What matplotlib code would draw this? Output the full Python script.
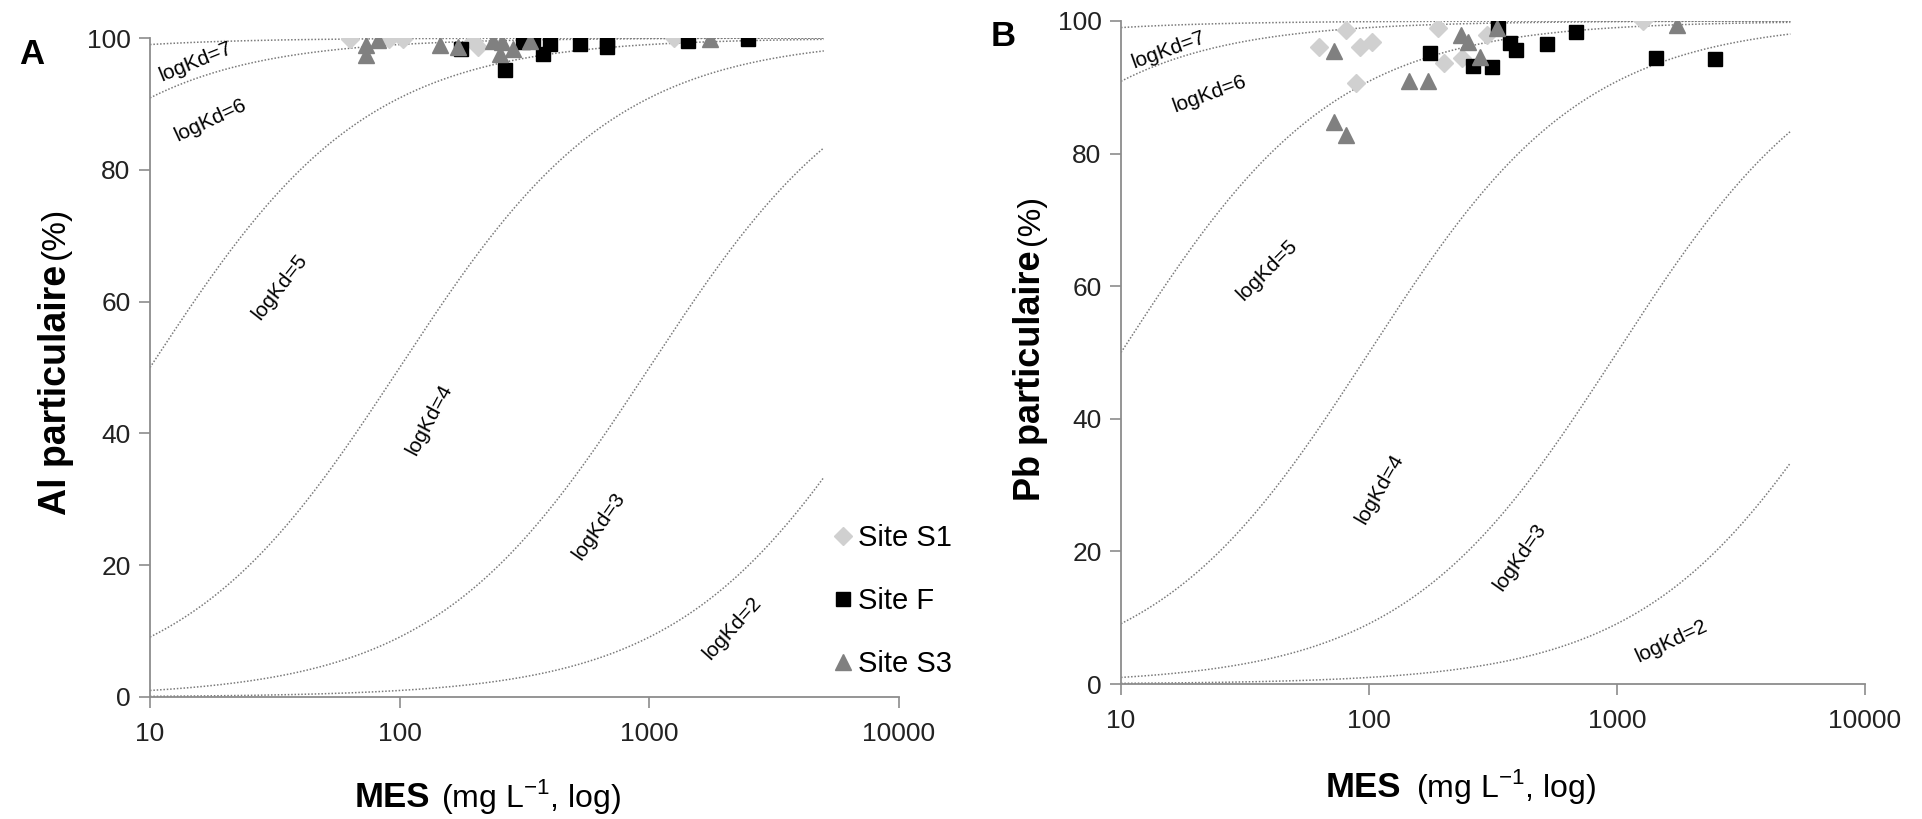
import numpy as np
import matplotlib
matplotlib.use("Agg")
import matplotlib.pyplot as plt

plt.rcParams['font.family'] = ['Liberation Sans', 'DejaVu Sans']
plt.rcParams['mathtext.fontset'] = 'custom'
plt.rcParams['mathtext.rm'] = 'Liberation Sans'
plt.rcParams['mathtext.bf'] = 'Liberation Sans:bold'

# theoretical partition curves
log_kd = [2, 3, 4, 5, 6, 7]
mes_curve = np.logspace(1, np.log10(5000), 300)

# panel A - Al
al_s1_x = [63, 91, 103, 197, 205, 1259]
al_s1_y = [99.9, 99.9, 99.9, 99.6, 98.6, 100]
al_f_x = [176, 264, 313, 342, 376, 400, 527, 676, 676, 1432, 2489]
al_f_y = [98.3, 95.2, 99.4, 99.8, 97.6, 99.1, 99.1, 99.6, 98.6, 99.5, 99.8]
al_s3_x = [73, 73, 82, 145, 172, 237, 256, 252, 284, 333, 1750]
al_s3_y = [98.9, 97.4, 99.65, 98.9, 98.7, 99.6, 99.4, 97.6, 98.4, 99.6, 99.9]

# panel B - Pb
pb_s1_x = [63, 81, 92, 103, 89, 190, 200, 238, 298, 1268]
pb_s1_y = [96.1, 98.6, 96.1, 96.9, 90.7, 98.9, 93.6, 94.4, 97.9, 100]
pb_f_x = [176, 262, 313, 332, 370, 392, 520, 681, 1430, 2480]
pb_f_y = [95.1, 93.2, 93.0, 98.9, 96.7, 95.6, 96.6, 98.4, 94.4, 94.2]
pb_s3_x = [72, 72, 81, 145, 173, 236, 250, 281, 329, 1738]
pb_s3_y = [95.4, 84.8, 82.8, 90.9, 90.9, 97.9, 96.9, 94.6, 98.9, 99.4]

# curve label placement (x, y, angle) per logKd
lab_a = {7: (15.2, 96.4, 22), 6: (17.5, 87.5, 25), 5: (33, 62.3, 52),
         4: (132, 42.1, 62), 3: (631, 26, 55), 2: (2150, 10.5, 48)}
lab_b = {7: (15.5, 95.6, 20), 6: (22.8, 89.0, 20), 5: (38.8, 62.5, 45),
         4: (110, 29.5, 60), 3: (406, 19.2, 55), 2: (1667, 6.4, 25)}

fig = plt.figure(figsize=(19.22, 8.19), dpi=100)
ax_a = fig.add_axes([150 / 1922, 1 - 697 / 819, 749 / 1922, 659 / 819])
ax_b = fig.add_axes([1121 / 1922, 1 - 684 / 819, 744 / 1922, 663 / 819])


def draw_panel(ax, s1x, s1y, fx, fy, s3x, s3y, labels):
    for k in log_kd:
        kd = 10.0 ** k * 1e-6
        frac = 100 * kd * mes_curve / (1 + kd * mes_curve)
        ax.plot(mes_curve, frac, ls=(0, (1, 1.2)), lw=1.1, color='#7a7a7a', zorder=1)
        lx, ly, rot = labels[k]
        ax.text(lx, ly, f"logKd={k}", fontsize=15, rotation=rot, rotation_mode='anchor',
                ha='center', va='center', zorder=2)
    ax.plot(s1x, s1y, 'D', ms=9, color='#d0d0d0', ls='none', label='Site S1', zorder=3)
    ax.plot(fx, fy, 's', ms=10, color='black', ls='none', label='Site F', zorder=4)
    ax.plot(s3x, s3y, '^', ms=11.5, color='#808080', ls='none', label='Site S3', zorder=5)

    ax.set_xscale('log')
    ax.set_xlim(10, 10000)
    ax.set_ylim(0, 100)
    ax.set_xticks([10, 100, 1000, 10000])
    ax.set_xticklabels(['10', '100', '1000', '10000'])
    ax.minorticks_off()
    ax.set_yticks([0, 20, 40, 60, 80, 100])
    for s in ['top', 'right']:
        ax.spines[s].set_visible(False)
    for s in ['left', 'bottom']:
        ax.spines[s].set_color('#8c8c8c')
        ax.spines[s].set_linewidth(1.3)
    ax.tick_params(axis='both', direction='out', length=8, width=1.2, color='#8c8c8c',
                   labelsize=19, labelcolor='#222222')
    ax.tick_params(axis='x', pad=10)
    ax.tick_params(axis='y', pad=6)
    ax.patch.set_alpha(0)


draw_panel(ax_a, al_s1_x, al_s1_y, al_f_x, al_f_y, al_s3_x, al_s3_y, lab_a)
draw_panel(ax_b, pb_s1_x, pb_s1_y, pb_f_x, pb_f_y, pb_s3_x, pb_s3_y, lab_b)

# legend inside panel A, lower right
handles, names = ax_a.get_legend_handles_labels()
fig.legend(handles, names, loc='center left', bbox_to_anchor=(820 / 1922, 1 - 601 / 819),
           frameon=False, fontsize=21, handlelength=0.6, handletextpad=0.2,
           labelspacing=1.2, borderpad=0)

# axis titles: bold name + regular unit
fig.text(0.029, 1 - 265 / 819, 'Al particulaire', rotation=90, fontsize=27,
         fontweight='bold', ha='center', va='top')
fig.text(0.029, 1 - 259 / 819, '(%)', rotation=90, fontsize=24, ha='center', va='bottom')
fig.text(1031 / 1922, 1 - 250 / 819, 'Pb particulaire', rotation=90, fontsize=26,
         fontweight='bold', ha='center', va='top')
fig.text(1031 / 1922, 1 - 245 / 819, '(%)', rotation=90, fontsize=23, ha='center', va='bottom')

fig.text(430 / 1922, 1 - 807 / 819, 'MES', fontsize=25, fontweight='bold', ha='right', va='baseline')
fig.text(441 / 1922, 1 - 807 / 819, r'(mg L$^{-1}$, log)', fontsize=23, ha='left', va='baseline')
fig.text(1401 / 1922, 1 - 797 / 819, 'MES', fontsize=25, fontweight='bold', ha='right', va='baseline')
fig.text(1416 / 1922, 1 - 797 / 819, r'(mg L$^{-1}$, log)', fontsize=23, ha='left', va='baseline')

fig.text(32 / 1922, 1 - 54 / 819, 'A', fontsize=25, fontweight='bold', ha='center', va='center')
fig.text(1003 / 1922, 1 - 36 / 819, 'B', fontsize=25, fontweight='bold', ha='center', va='center')

fig.savefig('out.png', dpi=100, facecolor='white')
